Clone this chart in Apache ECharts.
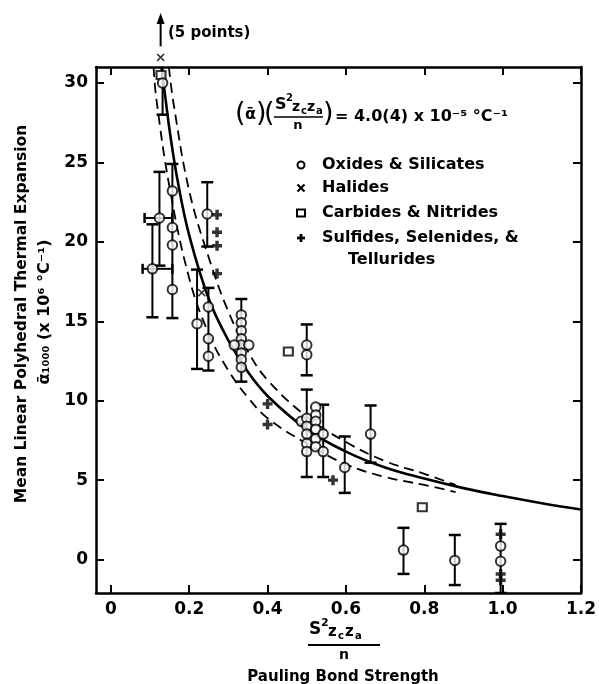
<!DOCTYPE html>
<html><head><meta charset="utf-8">
<script src="https://cdn.jsdelivr.net/npm/echarts@6/dist/echarts.min.js"></script>
<style>html,body{margin:0;padding:0;background:#fff}#c{width:599px;height:684px}</style>
</head><body><div id="c"></div>
<script>
// ---- data ----
const xTicks = [0, 0.2, 0.4, 0.6, 0.8, 1.0, 1.2];
const xTickLabels = ['0', '0.2', '0.4', '0.6', '0.8', '1.0', '1.2'];
const yTicks = [0, 5, 10, 15, 20, 25, 30];
const yTickLabels = ['0', '5', '10', '15', '20', '25', '30'];

const oxides = [
  [0.132,30.0],[0.157,23.2],[0.124,21.5],[0.106,18.3],[0.157,20.9],[0.157,19.8],[0.157,17.0],
  [0.246,21.75],[0.220,14.85],[0.249,15.9],[0.249,13.9],[0.249,12.8],
  [0.333,15.4],[0.333,14.9],[0.333,14.4],[0.333,13.9],[0.333,13.5],[0.333,13.0],[0.333,12.6],[0.333,12.1],
  [0.315,13.5],[0.352,13.5],
  [0.50,13.5],[0.50,12.9],
  [0.486,8.7],[0.50,8.9],[0.50,8.4],[0.50,7.9],[0.50,7.3],[0.50,6.8],
  [0.523,9.6],[0.523,9.1],[0.523,8.7],[0.523,8.2],[0.523,7.6],[0.523,7.1],
  [0.542,7.9],[0.542,6.8],
  [0.597,5.8],[0.663,7.9],[0.747,0.6],[0.878,-0.05],[0.995,0.85],[0.995,-0.1]
];
const halides = [[0.127,31.6],[0.232,16.8]];
const carbides = [[0.128,30.5],[0.453,13.1],[0.795,3.3]];
const sulfides = [[0.271,21.7],[0.271,20.6],[0.271,19.75],[0.271,18.0],[0.40,9.8],[0.40,8.5],
  [0.567,5.0],[0.995,1.6],[0.995,-0.9],[0.995,-1.3]];

// vertical error bars: [x, low, high]
const vErr = [[0.132,28.0,31.5],[0.124,18.5,24.4],[0.106,15.25,21.1],[0.157,15.2,24.9],
  [0.246,19.7,23.75],[0.220,12.0,18.25],[0.249,11.9,17.1],[0.333,11.2,16.4],[0.50,11.6,14.8],
  [0.50,5.2,10.7],[0.542,5.2,9.75],[0.597,4.2,7.75],[0.663,6.1,9.7],[0.747,-0.9,2.0],
  [0.878,-1.6,1.55],[0.995,-2.1,2.25]];
// horizontal error bars: [y, xlow, xhigh]
const hErr = [[21.5,0.086,0.157],[18.3,0.081,0.157]];
// off-scale arrow: [x, yStart, yEnd]
const offArrow = [[0.127,32.3,34.4]];

const solidX = [0.129,0.14,0.15,0.17,0.2,0.25,0.3,0.35,0.4,0.5,0.6,0.7,0.8,0.9,1.0,1.1,1.2];
const solidY = [31.0,28.9,27.0,23.9,20.4,16.4,13.8,11.8,10.3,8.2,6.8,5.8,5.1,4.5,4.0,3.55,3.15];
const upperX = [0.148,0.16,0.2,0.25,0.3,0.35,0.4,0.5,0.6,0.7,0.8,0.88];
const upperY = [31.0,28.7,23.2,19.0,15.6,13.1,11.3,9.0,7.4,6.2,5.4,4.7];
const lowerX = [0.109,0.116,0.15,0.2,0.25,0.3,0.35,0.4,0.5,0.6,0.7,0.8,0.88];
const lowerY = [31.0,29.0,23.4,17.7,14.2,11.9,10.2,8.9,7.3,6.0,5.2,4.7,4.25];

// ---- chart ----
const F = "'DejaVu Sans', sans-serif";
const zip = (a, b) => a.map((v, i) => [v, b[i]]);
const chart = echarts.init(document.getElementById('c'), null, {renderer: 'canvas'});

function vbar(params, api) {
  const x = api.value(0), lo = api.value(1), hi = api.value(2);
  const a = api.coord([x, lo]), b = api.coord([x, hi]);
  const w = 6;
  return {type: 'group', children: [
    {type: 'line', shape: {x1: a[0], y1: a[1], x2: b[0], y2: b[1]}, style: {stroke: '#000', lineWidth: 2}},
    {type: 'line', shape: {x1: a[0]-w, y1: a[1], x2: a[0]+w, y2: a[1]}, style: {stroke: '#000', lineWidth: 2.5}},
    {type: 'line', shape: {x1: b[0]-w, y1: b[1], x2: b[0]+w, y2: b[1]}, style: {stroke: '#000', lineWidth: 2.5}}
  ]};
}
function hbar(params, api) {
  const y = api.value(0), lo = api.value(1), hi = api.value(2);
  const a = api.coord([lo, y]), b = api.coord([hi, y]);
  const w = 5;
  return {type: 'group', children: [
    {type: 'line', shape: {x1: a[0], y1: a[1], x2: b[0], y2: b[1]}, style: {stroke: '#000', lineWidth: 2}},
    {type: 'line', shape: {x1: a[0], y1: a[1]-w, x2: a[0], y2: a[1]+w}, style: {stroke: '#000', lineWidth: 2.5}},
    {type: 'line', shape: {x1: b[0], y1: b[1]-w, x2: b[0], y2: b[1]+w}, style: {stroke: '#000', lineWidth: 2.5}}
  ]};
}
function arrow(params, api) {
  const x = api.value(0);
  const a = api.coord([x, api.value(1)]), b = api.coord([x, api.value(2)]);
  return {type: 'group', children: [
    {type: 'line', shape: {x1: a[0], y1: a[1], x2: b[0], y2: b[1]+6}, style: {stroke: '#000', lineWidth: 2}},
    {type: 'polygon', shape: {points: [[b[0], b[1]], [b[0]-4, b[1]+11], [b[0]+4, b[1]+11]]}, style: {fill: '#000'}}
  ]};
}

const plusPath = 'path://M3.3,0H6.7V3.3H10V6.7H6.7V10H3.3V6.7H0V3.3H3.3Z';
const xPath = 'path://M0,1.4L1.4,0L5,3.6L8.6,0L10,1.4L6.4,5L10,8.6L8.6,10L5,6.4L1.4,10L0,8.6L3.6,5Z';

const axisLine = {show: true, onZero: false, lineStyle: {color: '#000', width: 2.5}};
const tickStyle = {color: '#000', width: 2};
const labelStyle = {color: '#000', fontFamily: F, fontWeight: 'bold', fontSize: 17};

function T(x, y, text, size, extra) {
  return Object.assign({type: 'text', x: x, y: y, style: Object.assign({text: text,
    font: 'bold ' + size + 'px ' + F, fill: '#000', align: 'left', verticalAlign: 'middle'}, (extra && extra.style) || {})},
    extra ? {rotation: extra.rotation || 0} : {});
}
function L(x1, y1, x2, y2, w) {
  return {type: 'line', shape: {x1, y1, x2, y2}, style: {stroke: '#000', lineWidth: w || 2}};
}

const graphics = [
  // equation
  T(235, 114, '(', 27, {style: {font: '27px ' + F}}),
  T(245, 115, 'ᾱ', 16),
  T(256, 114, ')', 27, {style: {font: '27px ' + F}}),
  T(264, 114, '(', 27, {style: {font: '27px ' + F}}),
  T(275, 105, 'S', 16),
  T(286, 98, '2', 10),
  T(292, 107, 'z', 14),
  T(301, 111, 'c', 10),
  T(307, 107, 'z', 14),
  T(316, 111, 'a', 10),
  L(274, 117, 323, 117, 1.5),
  T(298, 126, 'n', 13, {style: {align: 'center'}}),
  T(323, 114, ')', 27, {style: {font: '27px ' + F}}),
  T(335, 117, '= 4.0(4) x 10⁻⁵ °C⁻¹', 16),
  // legend
  {type: 'circle', shape: {cx: 301, cy: 165, r: 3.5}, style: {fill: '#fff', stroke: '#000', lineWidth: 2}},
  L(297.5, 184.5, 304.5, 191.5, 2.2), L(304.5, 184.5, 297.5, 191.5, 2.2),
  {type: 'rect', shape: {x: 297, y: 209.5, width: 8, height: 7}, style: {fill: '#fff', stroke: '#000', lineWidth: 2}},
  L(301, 234, 301, 242, 2.8), L(297, 238, 305, 238, 2.8),
  T(322, 165, 'Oxides & Silicates', 16),
  T(322, 188, 'Halides', 16),
  T(322, 213, 'Carbides & Nitrides', 16),
  T(322, 238, 'Sulfides, Selenides, &', 16),
  T(348, 260, 'Tellurides', 16),
  // off-scale note
  T(168, 33, '(5 points)', 15),
  // y axis name
  T(22, 314, 'Mean Linear Polyhedral Thermal Expansion', 15.5, {rotation: Math.PI / 2, style: {align: 'center'}}),
  T(45, 312, 'ᾱ₁₀₀₀ (x 10⁶ °C⁻¹)', 16, {rotation: Math.PI / 2, style: {align: 'center'}}),
  // x axis name
  T(309, 630, 'S', 17),
  T(321, 623, '2', 11),
  T(328, 632, 'z', 15),
  T(338, 636, 'c', 10),
  T(345, 632, 'z', 15),
  T(355, 636, 'a', 10),
  L(308, 645, 380, 645, 2),
  T(344, 655, 'n', 14, {style: {align: 'center'}}),
  T(343, 677, 'Pauling Bond Strength', 15, {style: {align: 'center'}})
];

const option = {
  animation: false,
  backgroundColor: '#fff',
  grid: {left: 96, right: 14, top: 67, bottom: 91, containLabel: false},
  xAxis: [
    {type: 'value', position: 'bottom', min: -0.038, max: 1.2, axisLine: axisLine,
     axisTick: {show: true, inside: true, length: 8, lineStyle: tickStyle, customValues: xTicks},
     axisLabel: Object.assign({customValues: xTicks, margin: 8,
       formatter: v => { const i = xTicks.findIndex(t => Math.abs(t - v) < 1e-6); return i >= 0 ? xTickLabels[i] : ''; }}, labelStyle),
     splitLine: {show: false}},
    {type: 'value', position: 'top', min: -0.038, max: 1.2, axisLine: axisLine,
     axisTick: {show: true, inside: true, length: 8, lineStyle: tickStyle, customValues: xTicks},
     axisLabel: {show: false}, splitLine: {show: false}}
  ],
  yAxis: [
    {type: 'value', position: 'left', min: -2.1, max: 31, axisLine: axisLine,
     axisTick: {show: true, inside: true, length: 8, lineStyle: tickStyle, customValues: yTicks},
     axisLabel: Object.assign({customValues: yTicks, margin: 8,
       formatter: v => { const i = yTicks.findIndex(t => Math.abs(t - v) < 1e-6); return i >= 0 ? yTickLabels[i] : ''; }}, labelStyle),
     splitLine: {show: false}},
    {type: 'value', position: 'right', min: -2.1, max: 31, axisLine: axisLine,
     axisTick: {show: true, inside: true, length: 8, lineStyle: tickStyle, customValues: yTicks},
     axisLabel: {show: false}, splitLine: {show: false}}
  ],
  graphic: graphics,
  series: [
    {type: 'line', name: 'fit', data: zip(solidX, solidY), smooth: 0.4, showSymbol: false, symbol: 'none',
     lineStyle: {color: '#000', width: 2.6}, z: 2, clip: true},
    {type: 'line', name: 'upper', data: zip(upperX, upperY), smooth: 0.4, showSymbol: false, symbol: 'none',
     lineStyle: {color: '#000', width: 1.8, type: [10, 6]}, z: 2, clip: true},
    {type: 'line', name: 'lower', data: zip(lowerX, lowerY), smooth: 0.4, showSymbol: false, symbol: 'none',
     lineStyle: {color: '#000', width: 1.8, type: [10, 6]}, z: 2, clip: true},
    {type: 'custom', name: 'vErr', data: vErr, renderItem: vbar, encode: {x: 0, y: [1, 2]}, clip: true, z: 3},
    {type: 'custom', name: 'hErr', data: hErr, renderItem: hbar, encode: {y: 0, x: [1, 2]}, clip: true, z: 3},
    {type: 'custom', name: 'arrow', data: offArrow, renderItem: arrow, encode: {x: 0, y: [1, 2]}, clip: false, z: 3},
    {type: 'scatter', name: 'Sulfides', data: sulfides, symbol: plusPath, symbolSize: 10,
     itemStyle: {color: '#000'}, z: 4},
    {type: 'scatter', name: 'Carbides', data: carbides, symbol: 'rect', symbolSize: [9, 8],
     itemStyle: {color: '#fff', borderColor: '#000', borderWidth: 2}, z: 5},
    {type: 'scatter', name: 'Oxides', data: oxides, symbol: 'circle', symbolSize: 9.5,
     itemStyle: {color: '#fff', borderColor: '#000', borderWidth: 2}, z: 6},
    {type: 'scatter', name: 'Halides', data: halides, symbol: xPath, symbolSize: 8, clip: false,
     itemStyle: {color: '#000'}, z: 6}
  ]
};
chart.setOption(option);
</script>
</body></html>
